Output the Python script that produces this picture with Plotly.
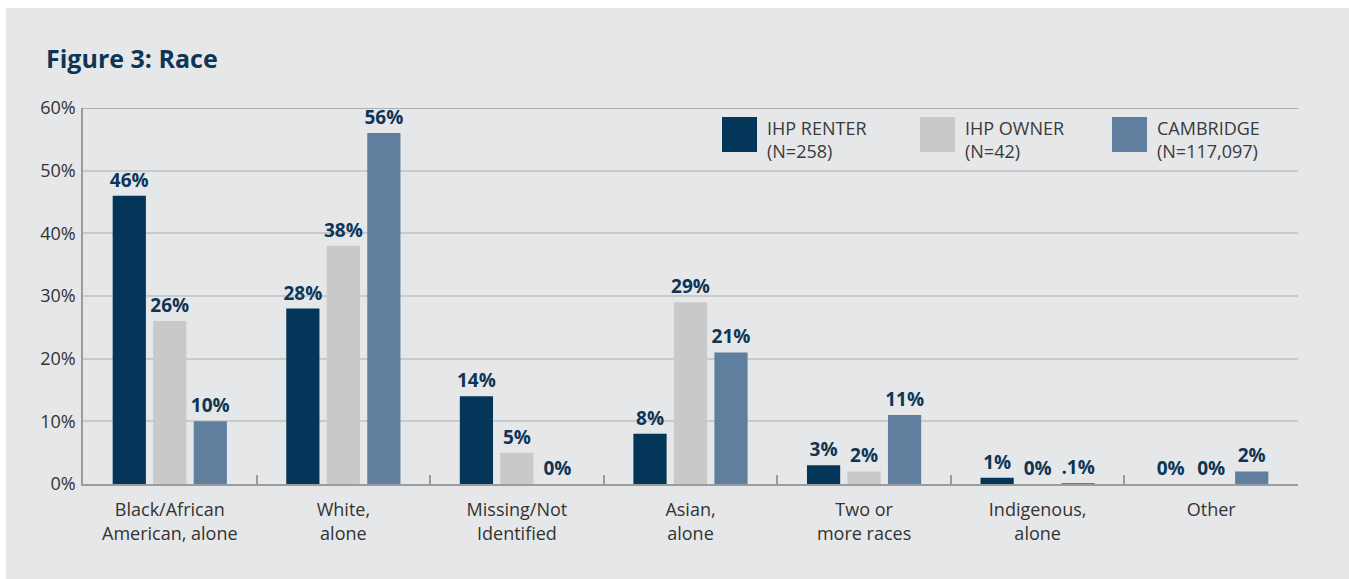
import plotly.graph_objects as go

categories = ["Black/African<br>American, alone", "White,<br>alone", "Missing/Not<br>Identified",
              "Asian,<br>alone", "Two or<br>more races", "Indigenous,<br>alone", "Other"]
series_names = ["IHP RENTER", "IHP OWNER", "CAMBRIDGE"]
series_n = ["(N=258)", "(N=42)", "(N=117,097)"]
renter = [46, 28, 14, 8, 3, 1, 0]
owner = [26, 38, 5, 29, 2, 0, 0]
cambridge = [10, 56, 0, 21, 11, 0.1, 2]
renter_labels = ["46%", "28%", "14%", "8%", "3%", "1%", "0%"]
owner_labels = ["26%", "38%", "5%", "29%", "2%", "0%", "0%"]
cambridge_labels = ["10%", "56%", "0%", "21%", "11%", ".1%", "2%"]
y_ticks = [0, 10, 20, 30, 40, 50, 60]
y_tick_labels = ["0%", "10%", "20%", "30%", "40%", "50%", "60%"]

colors = ["#033659", "#c8c9cb", "#5f7f9e"]
navy = "#0d3656"
W, H = 1349, 579
ml, mr, mt, mb = 83, 51, 108, 95
pw, ph = W - ml - mr, H - mt - mb

def px(x):
    return (x - ml) / pw

def py(y):
    return (H - mb - y) / ph

fig = go.Figure()
for name, vals, labs, col in zip(series_names, [renter, owner, cambridge],
                                 [renter_labels, owner_labels, cambridge_labels], colors):
    fig.add_trace(go.Bar(
        x=categories, y=vals, name=name, marker=dict(color=col, line=dict(width=0)),
        text=labs, textposition="outside", cliponaxis=False, constraintext="none",
        textfont=dict(family="Open Sans", size=19, color=navy, weight="bold"),
        showlegend=False, hoverinfo="skip"))

shapes = [dict(type="rect", xref="paper", yref="paper", x0=px(6), x1=px(W + 2), y0=py(8), y1=py(H + 2),
               fillcolor="#e6e7e9", line=dict(width=0), layer="below"),
          dict(type="line", xref="paper", yref="y", x0=0, x1=1, y0=60, y1=60,
               line=dict(color="#9a9b9d", width=1.5))]
annotations = [dict(text="<b>Figure 3: Race</b>", xref="paper", yref="paper", x=px(44), y=py(58),
                    xanchor="left", yanchor="middle", showarrow=False,
                    font=dict(family="Open Sans", size=25, color=navy))]
leg_x = [722, 920, 1112]
for lx, name, n, col in zip(leg_x, series_names, series_n, colors):
    shapes.append(dict(type="rect", xref="paper", yref="paper", x0=px(lx), x1=px(lx + 35),
                       y0=py(117), y1=py(152), fillcolor=col, line=dict(width=0)))
    annotations.append(dict(text=name + "<br>" + n, xref="paper", yref="paper", x=px(lx + 43),
                            y=py(114), xanchor="left", yanchor="top", align="left", showarrow=False,
                            font=dict(family="Open Sans", size=18, color="#3a3a3a")))

fig.update_layout(
    width=W, height=H, margin=dict(l=ml, r=mr, t=mt, b=mb),
    paper_bgcolor="white", plot_bgcolor="rgba(0,0,0,0)",
    barmode="group", bargap=0.3, bargroupgap=0.18,
    shapes=shapes, annotations=annotations,
    xaxis=dict(tickson="boundaries", ticks="inside", ticklen=9, tickcolor="#9a9b9d", tickwidth=1.5,
               showline=True, linecolor="#9a9b9d", linewidth=1.5, showgrid=False,
               ticklabelstandoff=9,
               tickfont=dict(family="Open Sans", size=18, color="#333333"), fixedrange=True),
    yaxis=dict(range=[0, 60], tickvals=y_ticks, ticktext=y_tick_labels, showline=True,
               linecolor="#9a9b9d", linewidth=1.5, gridcolor="#c9cacc", gridwidth=1.5, zeroline=False,
               tickfont=dict(family="Open Sans", size=18, color="#333333"), ticks="",
               ticklabelstandoff=2, fixedrange=True),
    font=dict(family="Open Sans"),
)
fig.write_html("out.html", config={"displayModeBar": False},
               post_script="document.body.style.margin='0';document.body.style.padding='0';")
